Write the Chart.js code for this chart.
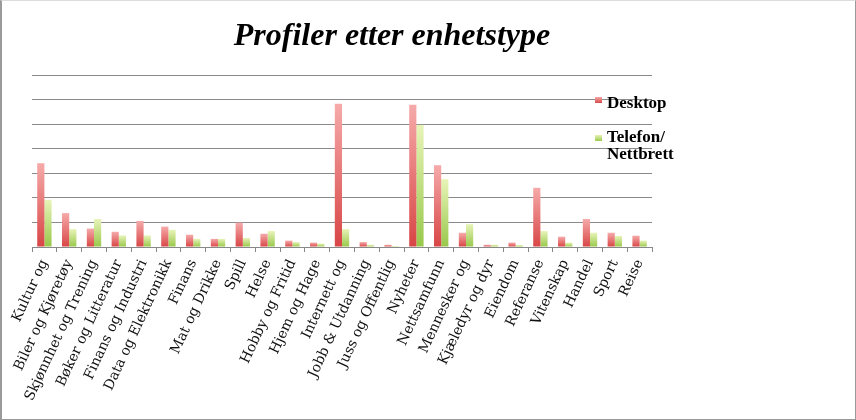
<!DOCTYPE html>
<html>
<head>
<meta charset="utf-8">
<script src="https://cdn.jsdelivr.net/npm/chart.js@4"></script>
<style>
  body { margin:0; background:#fff; }
  #wrap { position:relative; width:856px; height:420px; }
  #frame { position:absolute; left:0; top:0; width:853px; height:418px; border:1px solid #9a9a9a; border-left-width:2px; border-top-color:#ddd; pointer-events:none; }
  #title { position:absolute; left:0; width:784px; top:16px; text-align:center; font:italic bold 32px "Liberation Serif", serif; color:#000; }
  #legend { position:absolute; left:595px; top:94px; font:bold 17px "Liberation Serif", serif; color:#000; line-height:17px; }
  .item { position:relative; padding-left:12px; margin-bottom:17px; }
  .sw { position:absolute; left:0; width:7px; height:6px; }
</style>
</head>
<body>
<div id="wrap">
  <canvas id="c" width="856" height="420"></canvas>
  <div id="title">Profiler etter enhetstype</div>
  <div id="legend">
    <div class="item"><span class="sw" style="top:3px;background:linear-gradient(#f5a5a5,#d84a4a)"></span>Desktop</div>
    <div class="item"><span class="sw" style="top:7px;background:linear-gradient(#e6f3b4,#9ccb4e)"></span>Telefon/<br>Nettbrett</div>
  </div>
  <div id="frame"></div>
</div>
<script>
// Categories and values (in gridline units)
const categories = ['Kultur og','Biler og Kjøretøy','Skjønnhet og Trening','Bøker og Litteratur','Finans og Industri',
  'Data og Elektronikk','Finans','Mat og Drikke','Spill','Helse','Hobby og Fritid','Hjem og Hage','Internett og',
  'Jobb & Utdanning','Juss og Offentlig','Nyheter','Nettsamfunn','Mennesker og','Kjæledyr og dyr','Eiendom',
  'Referanse','Vitenskap','Handel','Sport','Reise'];
const desktop = [3.41,1.38,0.75,0.62,1.06,0.83,0.50,0.33,0.99,0.54,0.26,0.18,5.83,0.20,0.09,5.79,3.33,0.58,0.09,0.18,2.41,0.42,1.14,0.58,0.46];
const telefon = [1.92,0.73,1.14,0.47,0.47,0.70,0.33,0.33,0.37,0.65,0.20,0.14,0.73,0.09,0.04,4.97,2.76,0.93,0.09,0.08,0.65,0.18,0.58,0.45,0.26];
const seriesNames = ['Desktop','Telefon/ Nettbrett'];

// vertical gradient per bar, light at top, dark at the base
function grad(top, bottom){
  return ctx => {
    const c = ctx.chart;
    if(!c.chartArea || ctx.type!=='data') return bottom;
    const y = c.scales.y;
    const g = c.ctx.createLinearGradient(0, y.getPixelForValue(ctx.raw), 0, y.getPixelForValue(0));
    g.addColorStop(0, top);
    g.addColorStop(1, bottom);
    return g;
  };
}

new Chart(document.getElementById('c'), {
  type:'bar',
  data:{
    labels:categories,
    datasets:[
      {label:seriesNames[0], data:desktop, backgroundColor:grad('#f6aaaa','#d84545')},
      {label:seriesNames[1], data:telefon, backgroundColor:grad('#e8f4b8','#98c84a')}
    ]
  },
  options:{
    responsive:false,
    animation:false,
    layout:{padding:{left:32, right:204, top:75, bottom:0}},
    datasets:{bar:{categoryPercentage:0.58, barPercentage:1}},
    plugins:{legend:{display:false}, title:{display:false}, tooltip:{enabled:false}},
    scales:{
      x:{
        grid:{drawOnChartArea:false, drawTicks:true, tickLength:5, color:'#888', offset:true},
        border:{color:'#888'},
        ticks:{minRotation:65, maxRotation:65, autoSkip:false, padding:5, color:'#111',
          font:{family:'DejaVu Serif', size:14}},
        afterFit:s=>{ s.height = 173; }
      },
      y:{
        min:0, max:7,
        ticks:{display:false, stepSize:1},
        grid:{color:'#8a8a8a', drawTicks:false},
        border:{display:false},
        afterFit:s=>{ s.width = 0; }
      }
    }
  }
});
</script>
</body>
</html>
